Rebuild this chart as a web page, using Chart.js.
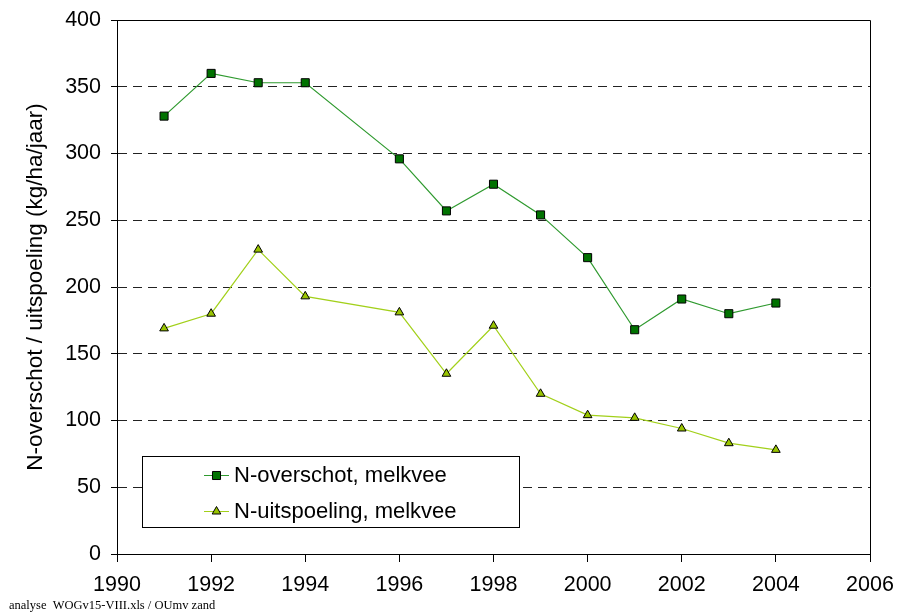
<!DOCTYPE html>
<html>
<head>
<meta charset="utf-8">
<script src="https://cdn.jsdelivr.net/npm/chart.js@4"></script>
<style>
  html, body { margin: 0; padding: 0; background: #fff; }
  #wrap { width: 898px; height: 612px; }
</style>
</head>
<body>
<div id="wrap"><canvas id="chart" width="898" height="612"></canvas></div>
<script>
// data
const yearsOverschot = [1991, 1992, 1993, 1994, 1996, 1997, 1998, 1999, 2000, 2001, 2002, 2003, 2004];
const overschot = [328, 360, 353, 353, 296, 257, 277, 254, 222, 168, 191, 180, 188];
const yearsUitspoeling = [1991, 1992, 1993, 1994, 1996, 1997, 1998, 1999, 2000, 2001, 2002, 2003, 2004];
const uitspoeling = [169, 180, 228, 193, 181, 135, 171, 120, 104, 102, 94, 83, 78];
const seriesLabels = ['N-overschot, melkvee', 'N-uitspoeling, melkvee'];
const yTitle = 'N-overschot / uitspoeling (kg/ha/jaar)';
const footnote = 'analyse  WOGv15-VIII.xls / OUmv zand';

const FONT = "'Liberation Sans', Arial, sans-serif";

const toPoints = (xs, ys) => xs.map((x, i) => ({x: x, y: ys[i]}));

// frame on top and right of the plot area + footnote
const framePlugin = {
    id: 'frame',
    afterDatasetsDraw(chart) {
        const {ctx, chartArea: a} = chart;
        ctx.save();
        ctx.strokeStyle = '#000';
        ctx.lineWidth = 1;
        ctx.setLineDash([]);
        ctx.beginPath();
        ctx.moveTo(Math.round(a.left) + 0.5, Math.round(a.top) + 0.5);
        ctx.lineTo(Math.round(a.right) + 0.5, Math.round(a.top) + 0.5);
        ctx.lineTo(Math.round(a.right) + 0.5, Math.round(a.bottom) + 0.5);
        ctx.stroke();
        ctx.restore();
    },
    afterDraw(chart) {
        const {ctx} = chart;
        ctx.save();
        ctx.fillStyle = '#000';
        ctx.font = "12.5px 'Liberation Serif', 'Times New Roman', serif";
        ctx.textBaseline = 'alphabetic';
        ctx.textAlign = 'left';
        ctx.fillText(footnote, 9, 609);
        ctx.restore();
    }
};

// legend drawn as a box inside the plot
const boxLegend = {
    id: 'boxLegend',
    afterDraw(chart) {
        const {ctx} = chart;
        const x0 = 142, y0 = 456, w = 377, h = 71;
        ctx.save();
        ctx.fillStyle = '#fff';
        ctx.fillRect(x0, y0, w, h);
        ctx.strokeStyle = '#000';
        ctx.lineWidth = 1;
        ctx.strokeRect(x0 + 0.5, y0 + 0.5, w, h);
        ctx.font = '22px ' + FONT;
        ctx.textBaseline = 'middle';
        ctx.textAlign = 'left';
        chart.data.datasets.forEach((ds, i) => {
            const cy = y0 + 19 + i * 36;
            ctx.strokeStyle = ds.borderColor;
            ctx.lineWidth = 1;
            ctx.beginPath();
            ctx.moveTo(204, cy + 0.5);
            ctx.lineTo(229, cy + 0.5);
            ctx.stroke();
            ctx.fillStyle = '#000';
            ctx.fillText(ds.label, 234, cy + 1);
            ctx.save();
            ctx.fillStyle = ds.pointBackgroundColor;
            ctx.strokeStyle = '#000';
            Chart.helpers.drawPoint(ctx, {
                pointStyle: ds.pointStyle,
                radius: ds.pointRadius,
                borderWidth: 1,
                rotation: 0
            }, 216.5, cy + 0.5);
            ctx.restore();
        });
        ctx.restore();
    }
};

new Chart(document.getElementById('chart'), {
    type: 'line',
    data: {
        datasets: [{
            label: seriesLabels[0],
            data: toPoints(yearsOverschot, overschot),
            borderColor: '#2f9a2f',
            borderWidth: 1.2,
            pointStyle: 'rect',
            pointRadius: 5.7,
            pointBackgroundColor: '#007200',
            pointBorderColor: '#000',
            pointBorderWidth: 1,
            tension: 0
        }, {
            label: seriesLabels[1],
            data: toPoints(yearsUitspoeling, uitspoeling),
            borderColor: '#a2d01a',
            borderWidth: 1.2,
            pointStyle: 'triangle',
            pointRadius: 5,
            pointBackgroundColor: '#99c400',
            pointBorderColor: '#000',
            pointBorderWidth: 1,
            tension: 0
        }]
    },
    options: {
        responsive: false,
        animation: false,
        layout: {padding: {left: 0, right: 28, top: 20, bottom: 0}},
        plugins: {
            legend: {display: false},
            tooltip: {enabled: false}
        },
        scales: {
            x: {
                type: 'linear',
                min: 1990,
                max: 2006,
                afterFit: s => { s.height = 58; s.paddingLeft = 0; s.paddingRight = 0; },
                ticks: {
                    stepSize: 2,
                    color: '#000',
                    font: {family: FONT, size: 21.5},
                    padding: 10,
                    maxRotation: 0,
                    callback: v => String(v)
                },
                grid: {
                    drawOnChartArea: false,
                    drawTicks: true,
                    tickLength: 8,
                    tickColor: '#000'
                },
                border: {color: '#000', width: 1}
            },
            y: {
                min: 0,
                max: 400,
                afterFit: s => { s.width = 117; s.paddingTop = 0; s.paddingBottom = 0; },
                ticks: {
                    stepSize: 50,
                    color: '#000',
                    font: {family: FONT, size: 21.5},
                    padding: 10
                },
                grid: {
                    color: '#222',
                    lineWidth: 1,
                    drawTicks: true,
                    tickLength: 6,
                    tickColor: '#000',
                    tickBorderDash: []
                },
                border: {color: '#000', width: 1, dash: [9, 6]},
                title: {
                    display: true,
                    text: yTitle,
                    color: '#000',
                    font: {family: FONT, size: 22.5},
                    padding: {top: 22, bottom: 0}
                }
            }
        }
    },
    plugins: [framePlugin, boxLegend]
});
</script>
</body>
</html>
